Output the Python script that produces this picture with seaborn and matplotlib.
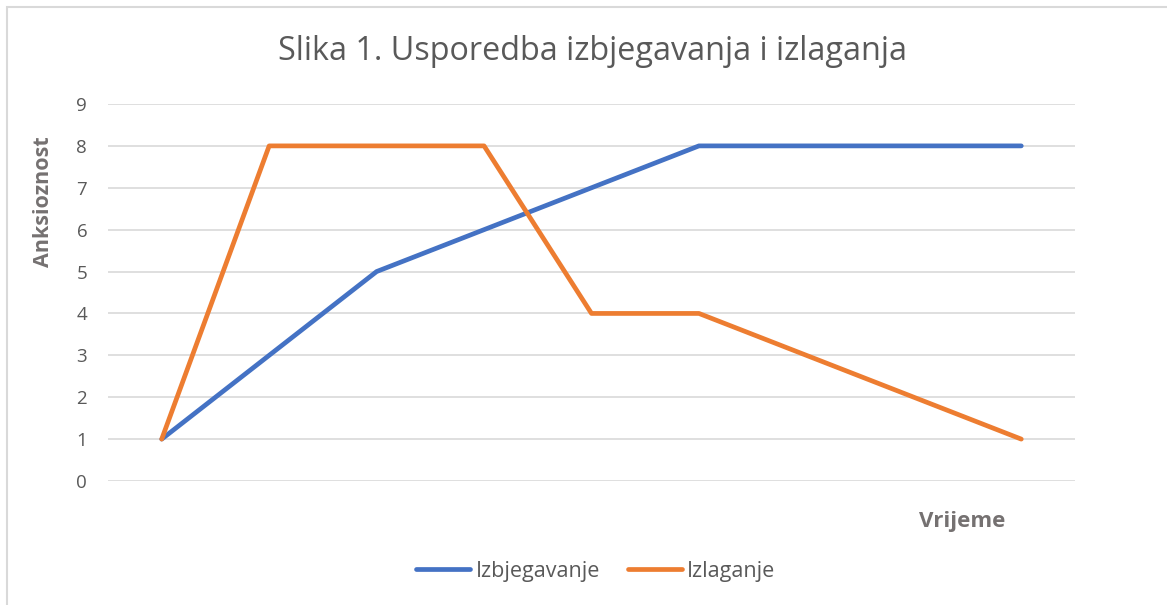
import matplotlib
matplotlib.use("Agg")
import matplotlib.pyplot as plt
import seaborn as sns
import pandas as pd
from matplotlib.patches import Rectangle

# data
tocke = list(range(1, 10))
izbjegavanje = [1, 3, 5, 6, 7, 8, 8, 8, 8]
izlaganje = [1, 8, 8, 8, 4, 4, 3, 2, 1]
serije = ["Izbjegavanje", "Izlaganje"]
boje = ["#4472C4", "#ED7D31"]

df = pd.DataFrame({
    "Vrijeme": tocke * 2,
    "Anksioznost": izbjegavanje + izlaganje,
    "Serija": [serije[0]] * len(tocke) + [serije[1]] * len(tocke),
})

sns.set_style("white")
plt.rcParams["font.family"] = ["Open Sans", "DejaVu Sans"]

fig = plt.figure(figsize=(11.67, 6.05), dpi=100)
ax = fig.add_axes([108 / 1167, 1 - 481 / 605, (1075 - 108) / 1167, (481 - 104) / 605])

sns.lineplot(data=df, x="Vrijeme", y="Anksioznost", hue="Serija",
             palette=boje, linewidth=3.4, ax=ax, legend=False)

ax.set_xlim(0.5, 9.5)
ax.set_ylim(0, 9)
ax.set_yticks(range(0, 10))
ax.set_xticks([])
ax.yaxis.grid(True, color="#D9D9D9", linewidth=1.2)
for s in ax.spines.values():
    s.set_visible(False)
ax.tick_params(axis="y", length=0, pad=15, labelsize=13.5, labelcolor="#595959")
ax.set_xlabel("")
ax.set_ylabel("Anksioznost", fontsize=15.5, fontweight="bold", color="#757171")
ax.yaxis.set_label_coords(-0.0556, 0.74)

fig.text(592 / 1167, 1 - 51 / 605, "Slika 1. Usporedba izbjegavanja i izlaganja",
         ha="center", va="center", fontsize=23.3, color="#595959")
fig.text(962 / 1167, 1 - 522 / 605, "Vrijeme", ha="center", va="center",
         fontsize=16, fontweight="bold", color="#757171")

# legend built from the series
handles = [plt.Line2D([], [], color=c, linewidth=3.4, solid_capstyle="round") for c in boje]
fig.legend(handles, serije, loc="center", bbox_to_anchor=(596 / 1167, 1 - 571 / 605),
           ncol=2, frameon=False, fontsize=15.5, labelcolor="#595959",
           handlelength=2.5, handletextpad=0.25, columnspacing=1.3)

fig.patches.append(Rectangle((6.5 / 1167, -0.1), 1.2, 1 - 6.5 / 605 + 0.1,
                             transform=fig.transFigure, fill=False,
                             edgecolor="#D9D9D9", linewidth=1.5))

fig.savefig("out.png", dpi=100)
